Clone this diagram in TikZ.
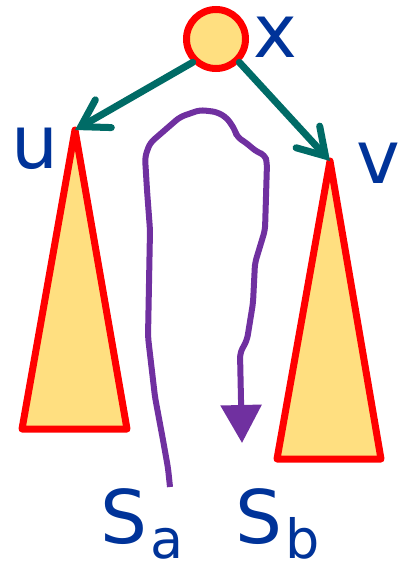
\documentclass[tikz,border=0pt]{standalone}
\usepackage{fontspec}
\setmainfont{DejaVu Sans}
\usetikzlibrary{arrows.meta}
\definecolor{nodered}{HTML}{FF0000}
\definecolor{cream}{HTML}{FFDF80}
\definecolor{edgeteal}{HTML}{006B66}
\definecolor{walkpurple}{HTML}{7030A0}
\definecolor{labelblue}{HTML}{003399}
\newcommand\sublbl[1]{\kern3pt\lower15pt\hbox{\fontsize{54}{60}\selectfont #1}}

\begin{document}
\begin{tikzpicture}[x=1pt,y=-1pt,font=\fontsize{74}{80}\selectfont,
  subtree/.style={draw=nodered,fill=cream,line width=7pt,line join=round},
  treeedge/.style={edgeteal,line width=7pt,line cap=round,
    -{Straight Barb[length=26pt,width=32pt,line cap=round]}},
  lab/.style={text=labelblue,inner sep=0pt,anchor=base west}]
  \useasboundingbox (0,0) rectangle (404,564);
  % root
  \node[circle,draw=nodered,fill=cream,line width=7pt,minimum size=59pt,
        inner sep=0pt] (x) at (216,39) {};
  \node[lab] (xlab) at (253,58) {x};
  % subtrees
  \coordinate (utop) at (75,130);
  \coordinate (vtop) at (330,161);
  \draw[subtree] (utop) -- (22,429) -- (127,429) -- cycle;
  \draw[subtree] (vtop) -- (277,459) -- (381,459) -- cycle;
  \node[lab] (ulab) at (11,168) {u};
  \node[lab] (vlab) at (356,183) {v};
  \draw[treeedge] (x.-135) -- (utop);
  \draw[treeedge] (x.-45) -- (vtop);
  % walk from S_a to S_b
  \coordinate (wstart) at (170,487);
  \coordinate (wend) at (242,443);
  \draw[walkpurple,line width=6pt,line join=round,rounded corners=5pt,
        -{Triangle[length=38pt,width=40pt]}]
    (wstart) -- (168,468) -- (163,440) -- (155,397) -- (148,337)
    -- (150,230) -- (147,190) -- (145,157) -- (150,143) -- (180,117)
    -- (200,110) -- (217,112) -- (227,118) -- (235,130) -- (237,137)
    -- (245,142) -- (257,152) -- (265,155) -- (267,163) -- (265,230)
    -- (255,263) -- (253,303) -- (247,340) -- (240,353) -- (241,400)
    -- (wend);
  \node[lab] (salab) at (100,543) {S\sublbl{a}};
  \node[lab] (sblab) at (235,543) {S\sublbl{b}};
\end{tikzpicture}
\end{document}
